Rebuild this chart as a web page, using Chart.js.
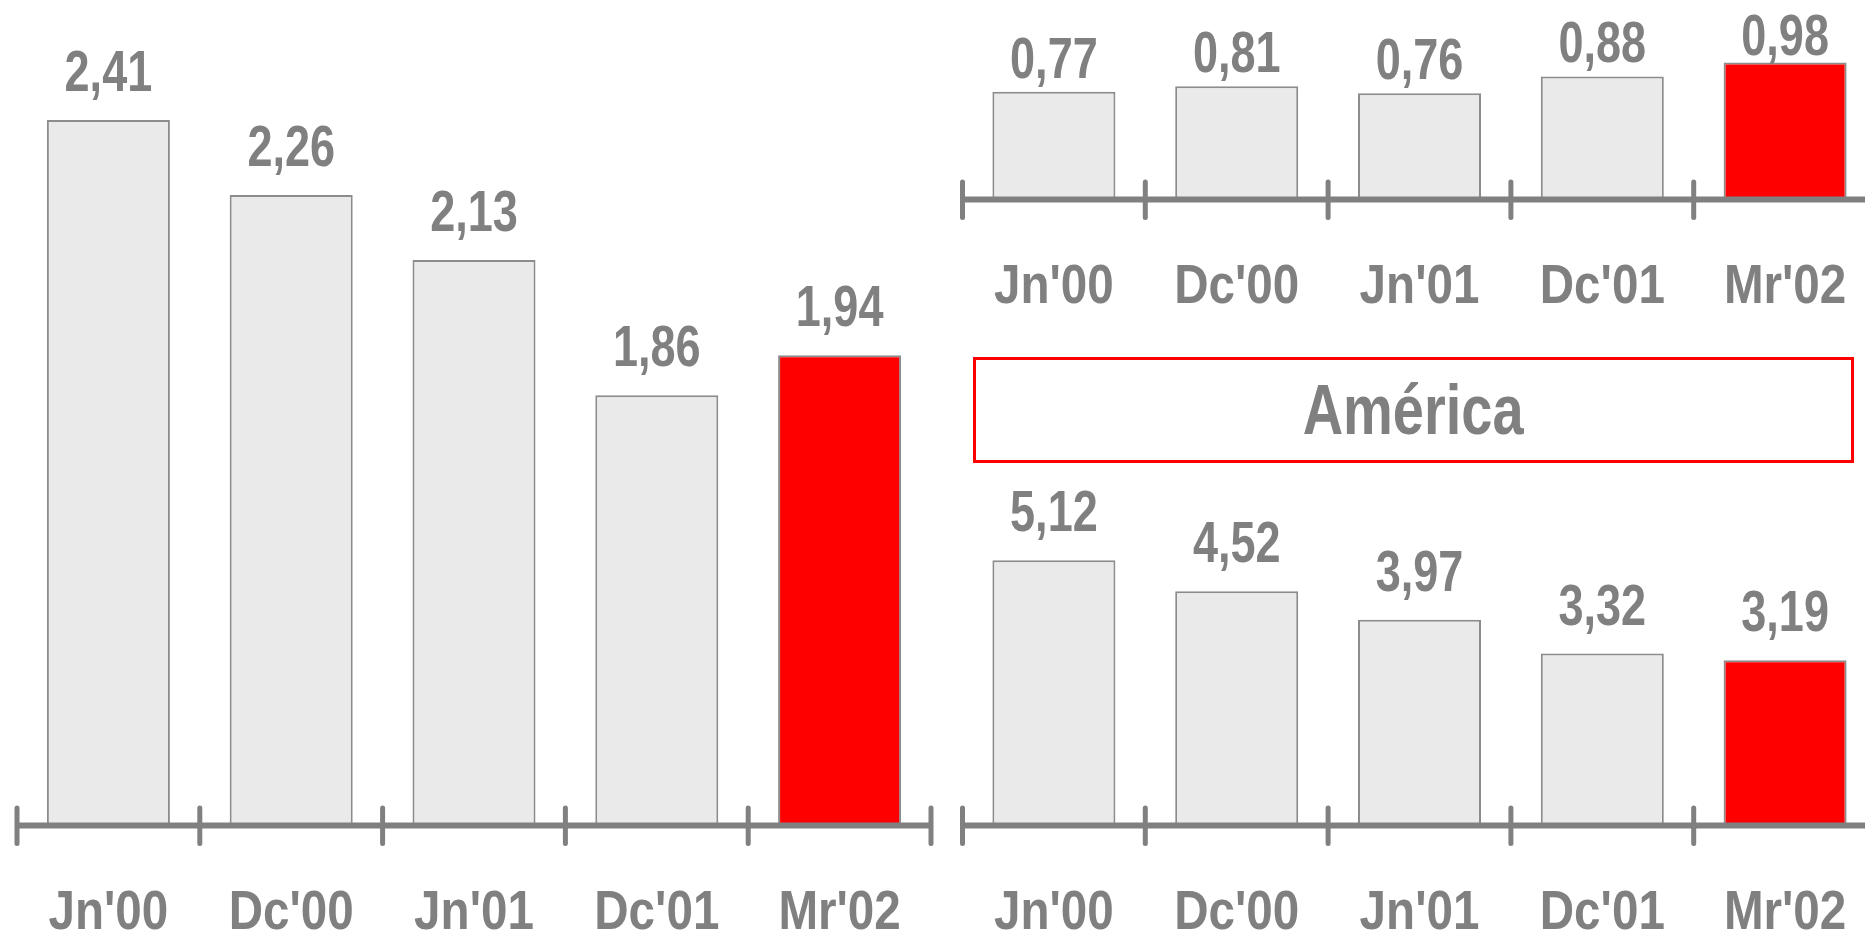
<!DOCTYPE html>
<html>
<head>
<meta charset="utf-8">
<script src="https://cdn.jsdelivr.net/npm/chart.js@4.4.1/dist/chart.umd.min.js"></script>
<style>
  html, body { margin:0; padding:0; width:1865px; height:933px; overflow:hidden; background:#fff; }
  canvas { position:absolute; }
  #cLeft { left:0; top:0; }
  #cTop { left:945px; top:0; }
  #cBottom { left:945px; top:470px; }
  #americaBox {
    position:absolute; left:973px; top:357px; width:881px; height:106px;
    box-sizing:border-box; border:3px solid #ff0000;
    display:flex; align-items:center; justify-content:center;
  }
  #americaText {
    display:inline-block; transform:scaleX(0.8);
    font-family:"Liberation Sans", Arial, sans-serif;
    font-size:70px; color:#808080; font-weight:bold; line-height:1;
  }
</style>
</head>
<body>
<canvas id="cLeft" width="950" height="933"></canvas>
<canvas id="cTop" width="951" height="307"></canvas>
<canvas id="cBottom" width="951" height="463"></canvas>
<div id="americaBox"><span id="americaText"></span></div>
<script>
// ---- data ----
const categories = ["Jn'00", "Dc'00", "Jn'01", "Dc'01", "Mr'02"];
const leftValues = [2.41, 2.26, 2.13, 1.86, 1.94];
const topRightValues = [0.77, 0.81, 0.76, 0.88, 0.98];
const americaValues = [5.12, 4.52, 3.97, 3.32, 3.19];
const regionTitle = "América";

// ---- styles ----
const FONT = '"Liberation Sans", Arial, sans-serif';
const GREY = '#808080';
const LABEL_SX = 0.85;   // horizontal squeeze for category labels (condensed look)
const VALUE_SX = 0.79;   // horizontal squeeze for value labels
const barFill = categories.map((c, i) => i === categories.length - 1 ? '#ff0000' : '#eaeaea');

function fmt(v) { return v.toFixed(2).replace('.', ','); }

function narrowText(ctx, text, x, y, sx) {
  ctx.save();
  ctx.translate(x, y);
  ctx.scale(sx, 1);
  ctx.fillText(text, 0, 0);
  ctx.restore();
}

const decorPlugin = {
  id: 'decor',
  afterDatasetsDraw(chart, args, opts) {
    const ctx = chart.ctx;
    const xs = chart.scales.x;
    const area = chart.chartArea;
    const n = chart.data.labels.length;
    const step = (xs.right - xs.left) / n;
    const y0 = area.bottom;
    ctx.save();
    // axis line
    ctx.strokeStyle = GREY;
    ctx.lineWidth = 6;
    ctx.lineCap = 'butt';
    ctx.beginPath();
    ctx.moveTo(xs.left, y0);
    ctx.lineTo(xs.right, y0);
    ctx.stroke();
    // tick marks at category boundaries
    ctx.lineWidth = 5;
    ctx.lineCap = 'round';
    for (let i = 0; i <= n; i++) {
      const tx = xs.left + i * step;
      ctx.beginPath();
      ctx.moveTo(tx, y0 - 17.5);
      ctx.lineTo(tx, y0 + 18);
      ctx.stroke();
    }
    ctx.fillStyle = GREY;
    ctx.textAlign = 'center';
    ctx.textBaseline = 'alphabetic';
    // category labels (positions from the x scale)
    ctx.font = 'bold 56px ' + FONT;
    chart.data.labels.forEach((lab, i) => {
      narrowText(ctx, lab, xs.getPixelForTick(i), y0 + 103, LABEL_SX);
    });
    // value labels
    ctx.font = 'bold 57px ' + FONT;
    const meta = chart.getDatasetMeta(0);
    const vals = chart.data.datasets[0].data;
    meta.data.forEach((bar, i) => {
      let by = bar.y - opts.gap;
      if (by < opts.minBaseline) by = opts.minBaseline;
      narrowText(ctx, fmt(vals[i]), bar.x, by, VALUE_SX);
    });
    ctx.restore();
  }
};

function makeChart(id, values, yMin, yMax, pad, gap, minBaseline) {
  return new Chart(document.getElementById(id), {
    type: 'bar',
    data: {
      labels: categories,
      datasets: [{
        data: values,
        backgroundColor: barFill,
        borderColor: '#8c8c8c',
        borderWidth: 2,
        borderSkipped: 'start',
        categoryPercentage: 1.0,
        barPercentage: 0.673
      }]
    },
    options: {
      responsive: false,
      animation: false,
      layout: { padding: pad },
      plugins: {
        legend: { display: false },
        tooltip: { enabled: false },
        decor: { gap: gap, minBaseline: minBaseline }
      },
      scales: {
        x: {
          offset: true,
          grid: { display: false, drawTicks: false },
          border: { display: false },
          ticks: { display: false },
          afterFit(scale) {
            scale.height = 107.5;
            scale.paddingLeft = 0;
            scale.paddingRight = 0;
          }
        },
        y: {
          display: false,
          min: yMin,
          max: yMax
        }
      }
    },
    plugins: [decorPlugin]
  });
}

makeChart('cLeft', leftValues, 1.0, 2.6, { top: 24.9, left: 17, right: 19, bottom: 0 }, 29, 0);
makeChart('cTop', topRightValues, 0, 1.4, { top: 3.8, left: 17.5, right: 19.5, bottom: 0 }, 14, 55);
makeChart('cBottom', americaValues, 0, 6.5, { top: 18.8, left: 17.5, right: 19.5, bottom: 0 }, 29, 0);
document.getElementById('americaText').textContent = regionTitle;
</script>
</body>
</html>
